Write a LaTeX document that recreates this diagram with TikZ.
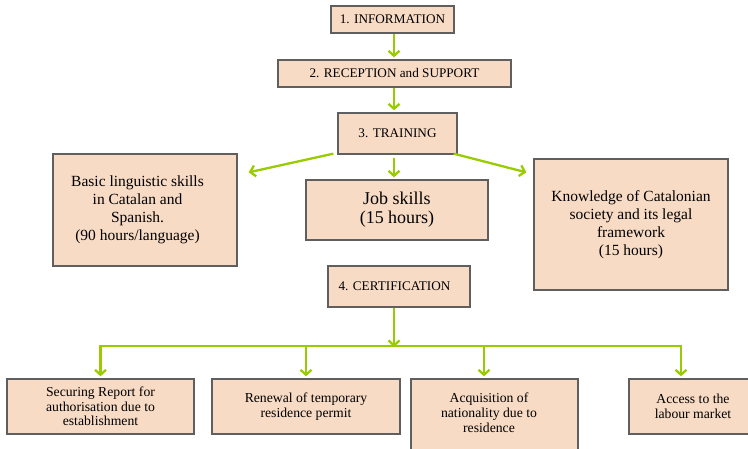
\documentclass[tikz,border=0pt]{standalone}
\usepackage{fontspec}
\setmainfont{Liberation Serif}
\usetikzlibrary{arrows.meta,calc}
\definecolor{boxfill}{RGB}{248,219,197}
\definecolor{boxline}{RGB}{95,95,95}
\definecolor{arrgreen}{RGB}{153,204,0}
\begin{document}
\begin{tikzpicture}[x=1pt,y=-1pt,
  box/.style={draw=boxline, line width=1.3pt, fill=boxfill, inner sep=0pt, align=center},
  ftop/.style={font=\fontsize{13.2}{14.7}\selectfont},
  fsmall/.style={font=\fontsize{13.7}{14.7}\selectfont},
  fmid/.style={font=\fontsize{15.5}{18.2}\selectfont},
  fbig/.style={font=\fontsize{18}{19}\selectfont},
  arr/.style={draw=arrgreen, line width=2.3pt, -{Straight Barb[length=5pt,width=11pt]}},
  bus/.style={draw=arrgreen, line width=2.3pt},
]
\useasboundingbox (0,0) rectangle (748,448);
% top flow
\node[box, ftop, minimum width=123pt, minimum height=27pt] (info) at (392.5,19.5) {1. INFORMATION};
\node[box, ftop, minimum width=233pt, minimum height=27pt] (rec) at (394.5,73.5) {2. RECEPTION and SUPPORT};
\node[box, ftop, minimum width=119pt, minimum height=41pt] (train) at (397.5,133.5) {3. TRAINING};
% training outputs
\node[box, fmid, minimum width=184pt, minimum height=112pt] (basic) at (145,210)
  {\begin{tabular}{@{}c@{}}Basic linguistic skills\\ in Catalan and\\ Spanish.\\ (90 hours/language)\end{tabular}\hspace*{15pt}};
\node[box, fbig, minimum width=182pt, minimum height=60pt] (job) at (397,210) {Job skills\\ (15 hours)};
\node[box, fmid, minimum width=194pt, minimum height=131pt] (know) at (631,224.5)
  {Knowledge of Catalonian\\ society and its legal\\ framework\\ (15 hours)};
% certification
\node[box, ftop, minimum width=142pt, minimum height=41pt] (cert) at (399,286.5) {\hspace*{-9pt}4. CERTIFICATION};
% results
\node[box, fsmall, minimum width=187pt, minimum height=55pt] (b1) at (100.5,406.5)
  {Securing Report for\\ authorisation due to\\ establishment};
\node[box, fsmall, minimum width=188pt, minimum height=55pt] (b2) at (306,406.5)
  {Renewal of temporary\\ residence permit};
\node[box, fsmall, minimum width=167pt, minimum height=71pt] (b3) at (494.5,414.5)
  {\begin{tabular}{@{}c@{}}Acquisition of\\ nationality due to\\ residence\end{tabular}\hspace*{11pt}};
\node[box, fsmall, minimum width=128pt, minimum height=55pt] (b4) at (693,406.5)
  {Access to the\\ labour market};
% connectors
\coordinate (spine) at (394,0);
\coordinate (busy) at (0,346);
\draw[arr, shorten >=2pt] (spine |- info.south) -- (spine |- rec.north);
\draw[arr, shorten >=2pt] (spine |- rec.south) -- (spine |- train.north);
\draw[arr, shorten <=3pt, shorten >=2pt] (spine |- train.south) -- (spine |- job.north);
\draw[arr] ($(train.south west)+(-4,-1)$) -- ($(basic.north east)+(11,19)$);
\draw[arr] ($(train.south east)+(-4,-1)$) -- ($(know.north west)+(-7,14)$);
\draw[arr] (spine |- cert.south) -- ($(spine |- busy)+(0,1)$);
\coordinate (d1) at (b1.north);
\coordinate (d2) at (b2.north);
\coordinate (d3) at ($(b3.north)+(-10.5,0)$);
\coordinate (d4) at ($(b4.north)+(-12,0)$);
\draw[bus, line cap=rect] (d1 |- busy) -- (d4 |- busy);
\foreach \d in {d1,d2,d3,d4}
  \draw[arr, shorten >=2pt] (\d |- busy) -- (\d);
\end{tikzpicture}
\end{document}
